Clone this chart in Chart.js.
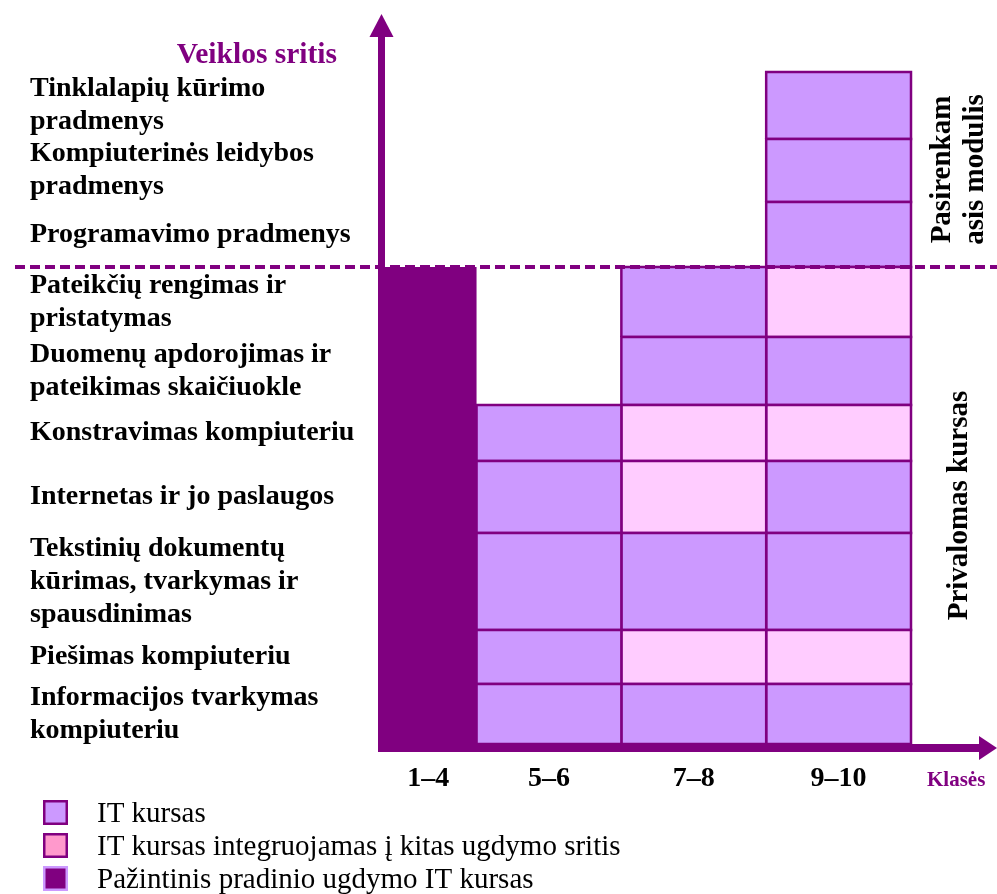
<!DOCTYPE html>
<html>
<head>
<meta charset="utf-8">
<script src="https://cdn.jsdelivr.net/npm/chart.js@4/dist/chart.umd.min.js"></script>
<style>
html,body{margin:0;padding:0;background:#fff;}
#wrap{width:997px;height:894px;position:relative;}
</style>
</head>
<body>
<div id="wrap"><canvas id="c"></canvas></div>
<script>
// ---------- DATA ----------
const classGroups = ['1–4', '5–6', '7–8', '9–10'];
const classSpan = [2, 3, 3, 3];            // relative column widths
// topics, bottom to top
const topicLabels = [
  ['Informacijos tvarkymas', 'kompiuteriu'],
  ['Piešimas kompiuteriu'],
  ['Tekstinių dokumentų', 'kūrimas, tvarkymas ir', 'spausdinimas'],
  ['Internetas ir jo paslaugos'],
  ['Konstravimas kompiuteriu'],
  ['Duomenų apdorojimas ir', 'pateikimas skaičiuokle'],
  ['Pateikčių rengimas ir', 'pristatymas'],
  ['Programavimo pradmenys'],
  ['Kompiuterinės leidybos', 'pradmenys'],
  ['Tinklalapių kūrimo', 'pradmenys']
];
const topicSpan = [60, 54, 97, 72, 56, 68, 70, 65, 63, 67];   // relative row heights
const mandatoryCount = 7;                                      // rows belonging to "Privalomas kursas"
// course type per topic (bottom to top): I = IT kursas, K = integruojamas, P = pažintinis
const grades14  = ['P', 'P', 'P', 'P', 'P', 'P', 'P', null, null, null];
const grades56  = ['I', 'I', 'I', 'I', 'I', null, null, null, null, null];
const grades78  = ['I', 'K', 'I', 'K', 'K', 'I', 'I', null, null, null];
const grades910 = ['I', 'K', 'I', 'I', 'K', 'I', 'K', 'I', 'I', 'I'];
const seriesKeys = ['I', 'K', 'P'];
const seriesLabels = ['IT kursas', 'IT kursas integruojamas į kitas ugdymo sritis', 'Pažintinis pradinio ugdymo IT kursas'];
const sectionMandatory = ['Privalomas kursas'];
const sectionOptional = ['Pasirenkam', 'asis modulis'];
const yTitle = 'Veiklos sritis';
const xTitle = 'Klasės';

// ---------- STYLE ----------
const PURPLE = '#800080';
const FONT = "'Liberation Serif', 'Times New Roman', serif";
const cellFill = { I: '#CC99FF', K: '#FFCCFF', P: '#800080' };
const legendFill = { I: '#CC99FF', K: '#FF99CC', P: '#800080' };
const legendBorder = { I: PURPLE, K: PURPLE, P: '#CC99FF' };

// ---------- DERIVED ----------
const gradeMatrix = [grades14, grades56, grades78, grades910];
const cum = arr => arr.reduce((acc, v) => { acc.push(acc[acc.length - 1] + v); return acc; }, [0]);
const xEdges = cum(classSpan);
const yEdges = cum(topicSpan);
const colCenters = classGroups.map((_, i) => (xEdges[i] + xEdges[i + 1]) / 2);
const rowCenters = topicLabels.map((_, i) => (yEdges[i] + yEdges[i + 1]) / 2);

function rect(x0, x1, y0, y1) {
  return [{x: x0, y: y0}, {x: x1, y: y0}, {x: x1, y: y1}, {x: x0, y: y1}, {x: x0, y: y0}];
}

const datasets = [];
gradeMatrix.forEach((col, c) => {
  let r = 0;
  while (r < col.length) {
    const t = col[r];
    if (!t) { r++; continue; }
    let r2 = r + 1;
    if (t === 'P') { while (r2 < col.length && col[r2] === 'P') r2++; }
    datasets.push({
      label: seriesLabels[seriesKeys.indexOf(t)],
      data: rect(xEdges[c], xEdges[c + 1], yEdges[r], yEdges[r2]),
      fill: 'shape',
      backgroundColor: cellFill[t],
      borderColor: PURPLE,
      borderWidth: t === 'P' ? 0 : 2.5,
      borderJoinStyle: 'miter',
      pointRadius: 0,
      tension: 0,
      clip: false
    });
    r = r2;
  }
});

// ---------- DECORATION PLUGIN ----------
const decor = {
  id: 'decor',
  afterDraw(chart) {
    const {ctx, chartArea: a, scales: {x, y}} = chart;
    const W = chart.width, H = chart.height;
    ctx.save();
    // dashed separator between mandatory and optional
    const yb = y.getPixelForValue(yEdges[mandatoryCount]);
    ctx.strokeStyle = PURPLE;
    ctx.lineWidth = 4;
    ctx.setLineDash([10, 5]);
    ctx.beginPath(); ctx.moveTo(15, yb); ctx.lineTo(W, yb); ctx.stroke();
    ctx.setLineDash([]);

    // y axis arrow
    ctx.fillStyle = PURPLE;
    const ax = a.left + 1.5;
    ctx.lineWidth = 7;
    ctx.beginPath(); ctx.moveTo(ax, a.bottom + 8); ctx.lineTo(ax, 36); ctx.stroke();
    ctx.beginPath(); ctx.moveTo(ax - 12, 37); ctx.lineTo(ax + 12, 37); ctx.lineTo(ax, 14); ctx.closePath(); ctx.fill();

    // x axis arrow
    const ay = a.bottom + 4;
    ctx.lineWidth = 8;
    ctx.beginPath(); ctx.moveTo(a.left - 2, ay); ctx.lineTo(W - 17, ay); ctx.stroke();
    ctx.beginPath(); ctx.moveTo(W - 18, ay - 12); ctx.lineTo(W - 18, ay + 12); ctx.lineTo(W, ay); ctx.closePath(); ctx.fill();

    // axis titles
    ctx.fillStyle = PURPLE;
    ctx.font = 'bold 29.5px ' + FONT;
    ctx.textAlign = 'right'; ctx.textBaseline = 'alphabetic';
    ctx.fillText(yTitle, a.left - 43, 63);
    ctx.font = 'bold 21px ' + FONT;
    ctx.textAlign = 'left';
    ctx.fillText(xTitle, 927, a.bottom + 42);

    // section labels (rotated)
    ctx.fillStyle = '#000';
    ctx.font = 'bold 29px ' + FONT;
    ctx.textAlign = 'center';
    const midMand = y.getPixelForValue((yEdges[0] + yEdges[mandatoryCount]) / 2);
    const midOpt = y.getPixelForValue((yEdges[mandatoryCount] + yEdges[yEdges.length - 1]) / 2);
    const drawRot = (txt, bx, cy) => {
      ctx.save(); ctx.translate(bx, cy); ctx.rotate(-Math.PI / 2);
      ctx.fillText(txt, 0, 0); ctx.restore();
    };
    sectionMandatory.forEach((t, i) => drawRot(t, a.right + 56 + i * 33, midMand));
    sectionOptional.forEach((t, i) => drawRot(t, a.right + 39 + i * 33, midOpt));

    // legend
    ctx.font = '29px ' + FONT;
    ctx.textAlign = 'left';
    seriesKeys.forEach((k, i) => {
      const base = H - 72 + i * 33;
      const sy = base - 22;
      ctx.fillStyle = legendFill[k];
      ctx.fillRect(43, sy, 25, 25);
      ctx.strokeStyle = legendBorder[k];
      ctx.lineWidth = 2.5;
      ctx.strokeRect(44.25, sy + 1.25, 22.5, 22.5);
      ctx.fillStyle = '#000';
      ctx.fillText(seriesLabels[i], 97, base);
    });
    ctx.restore();
  }
};

new Chart(document.getElementById('c'), {
  type: 'line',
  data: { datasets },
  options: {
    responsive: true,
    maintainAspectRatio: false,
    animation: false,
    events: [],
    devicePixelRatio: 1,
    layout: { padding: { left: 30, right: 86, top: 72, bottom: 100 } },
    plugins: { legend: { display: false }, tooltip: { enabled: false }, filler: { propagate: false } },
    scales: {
      x: {
        type: 'linear',
        position: 'bottom',
        min: xEdges[0],
        max: xEdges[xEdges.length - 1],
        grid: { display: false, drawTicks: false },
        border: { display: false },
        afterBuildTicks: s => { s.ticks = colCenters.map(v => ({ value: v })); },
        afterFit: s => { s.height = 50; },
        ticks: {
          autoSkip: false, maxRotation: 0, minRotation: 0, padding: 18, color: '#000',
          font: { family: FONT, size: 28, weight: 'bold' },
          callback: (v, i) => classGroups[i]
        }
      },
      y: {
        type: 'linear',
        position: 'left',
        min: yEdges[0],
        max: yEdges[yEdges.length - 1],
        grid: { display: false, drawTicks: false },
        border: { display: false },
        afterBuildTicks: s => { s.ticks = rowCenters.map(v => ({ value: v })); },
        afterFit: s => { s.width = 350; },
        ticks: {
          autoSkip: false, crossAlign: 'far', padding: 0, color: '#000',
          font: { family: FONT, size: 28, weight: 'bold', lineHeight: 1.18 },
          callback: (v, i) => topicLabels[i]
        }
      }
    }
  },
  plugins: [decor]
});
</script>
</body>
</html>
